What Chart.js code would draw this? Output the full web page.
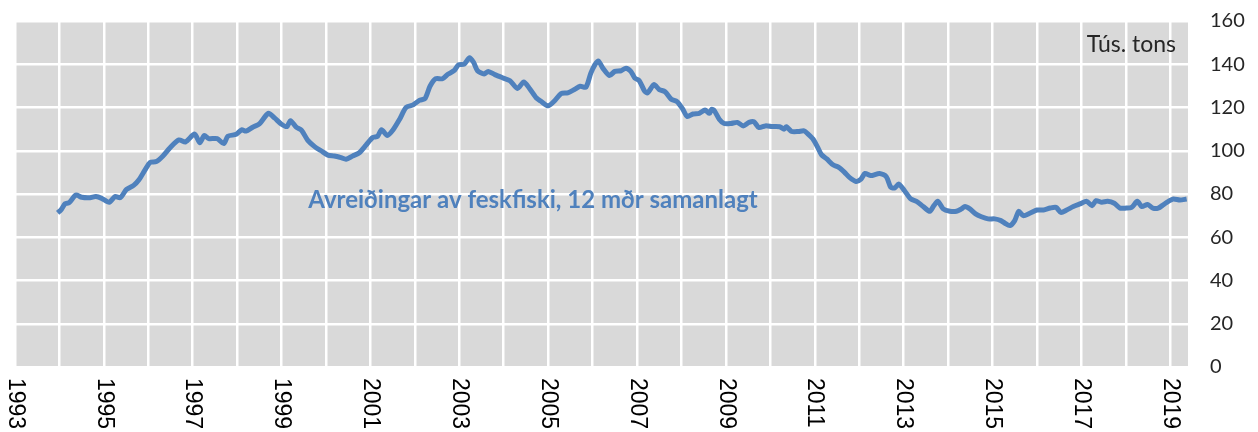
<!DOCTYPE html>
<html>
<head>
<meta charset="utf-8">
<script src="https://cdn.jsdelivr.net/npm/chart.js@4"></script>
<style>
  body { margin: 0; background: #fff; }
  canvas { display: block; }
</style>
</head>
<body>
<canvas id="fishChart" width="1258" height="432"></canvas>
<script>
// ********
// * Data *
// ********
const years = [
  1993.96, 1994.03, 1994.13, 1994.22, 1994.37, 1994.50, 1994.69, 1994.82, 1994.95, 1995.12,
  1995.25, 1995.37, 1995.51, 1995.67, 1995.79, 1995.92, 1996.04, 1996.18, 1996.33, 1996.49,
  1996.69, 1996.84, 1997.04, 1997.16, 1997.26, 1997.36, 1997.55, 1997.70, 1997.79, 1997.98,
  1998.10, 1998.20, 1998.35, 1998.50, 1998.70, 1998.84, 1998.99, 1999.12, 1999.20, 1999.33,
  1999.45, 1999.59, 1999.75, 1999.89, 2000.04, 2000.19, 2000.34, 2000.45, 2000.60, 2000.75,
  2000.90, 2001.05, 2001.16, 2001.25, 2001.38, 2001.51, 2001.66, 2001.80, 2001.96, 2002.10,
  2002.23, 2002.34, 2002.47, 2002.62, 2002.75, 2002.88, 2002.98, 2003.11, 2003.23, 2003.32,
  2003.41, 2003.56, 2003.65, 2003.80, 2003.99, 2004.14, 2004.31, 2004.45, 2004.58, 2004.73,
  2004.83, 2005.00, 2005.14, 2005.29, 2005.44, 2005.59, 2005.72, 2005.85, 2005.96, 2006.05,
  2006.13, 2006.23, 2006.38, 2006.50, 2006.64, 2006.75, 2006.86, 2006.95, 2007.05, 2007.17,
  2007.24, 2007.38, 2007.50, 2007.63, 2007.77, 2007.90, 2008.03, 2008.13, 2008.26, 2008.40,
  2008.53, 2008.63, 2008.68, 2008.74, 2008.85, 2008.96, 2009.11, 2009.26, 2009.39, 2009.52,
  2009.63, 2009.74, 2009.89, 2010.04, 2010.21, 2010.31, 2010.36, 2010.48, 2010.63, 2010.76,
  2010.85, 2010.96, 2011.06, 2011.15, 2011.27, 2011.41, 2011.54, 2011.67, 2011.78, 2011.93,
  2012.04, 2012.13, 2012.26, 2012.46, 2012.61, 2012.71, 2012.80, 2012.89, 2013.02, 2013.16,
  2013.29, 2013.44, 2013.59, 2013.68, 2013.77, 2013.89, 2014.04, 2014.19, 2014.30, 2014.38,
  2014.49, 2014.62, 2014.75, 2014.90, 2015.05, 2015.19, 2015.28, 2015.39, 2015.50, 2015.59,
  2015.69, 2015.84, 2016.00, 2016.15, 2016.30, 2016.43, 2016.54, 2016.67, 2016.82, 2016.97,
  2017.12, 2017.24, 2017.33, 2017.46, 2017.59, 2017.74, 2017.87, 2018.01, 2018.13, 2018.26,
  2018.36, 2018.49, 2018.61, 2018.73, 2018.85, 2018.96, 2019.07, 2019.22, 2019.37
];

const landings = [
  71.3, 72.5, 75.5, 76.0, 79.5, 78.5, 78.3, 78.8, 78.0, 76.2,
  78.8, 78.3, 82.1, 84.0, 86.6, 90.9, 94.6, 95.0, 97.6, 101.4,
  105.0, 104.1, 107.7, 103.7, 107.1, 105.6, 105.6, 103.3, 106.7, 107.6,
  109.7, 109.1, 110.9, 112.4, 117.3, 115.2, 112.4, 111.2, 113.9, 110.9,
  109.4, 104.8, 101.8, 100.0, 98.0, 97.6, 96.8, 96.1, 97.6, 99.1,
  102.6, 106.1, 106.7, 109.7, 107.1, 109.7, 114.7, 120.0, 121.2, 123.3,
  124.2, 129.8, 133.3, 133.3, 135.5, 137.0, 139.7, 140.0, 143.0, 140.9,
  137.0, 135.5, 136.7, 135.2, 133.6, 132.4, 128.8, 131.8, 128.8, 124.5,
  123.0, 120.8, 123.0, 126.4, 126.8, 128.3, 129.8, 129.4, 135.9, 139.7,
  141.5, 138.2, 134.8, 136.7, 137.0, 138.2, 136.7, 133.6, 132.4, 127.6,
  126.8, 130.6, 128.3, 127.3, 123.8, 122.7, 119.2, 115.8, 117.0, 117.3,
  118.8, 117.3, 119.2, 118.5, 114.6, 112.6, 112.6, 113.1, 111.5, 113.1,
  113.4, 110.8, 111.5, 111.2, 111.1, 110.0, 111.1, 108.9, 108.9, 109.2,
  107.7, 105.4, 101.8, 98.2, 96.2, 93.5, 92.3, 90.0, 87.7, 85.8,
  86.9, 89.5, 88.5, 89.5, 88.0, 83.1, 82.8, 84.6, 81.5, 77.7,
  76.6, 74.2, 72.0, 74.6, 76.6, 73.1, 72.0, 72.0, 73.1, 74.2,
  73.1, 70.8, 69.5, 68.5, 68.5, 67.7, 66.5, 65.4, 67.7, 72.0,
  70.0, 71.1, 72.6, 72.6, 73.5, 73.8, 71.5, 72.6, 74.2, 75.4,
  76.6, 74.6, 76.9, 76.2, 76.6, 75.7, 73.5, 73.5, 73.8, 76.6,
  74.2, 75.1, 73.5, 73.5, 75.1, 76.6, 77.7, 77.2, 77.7
];

const yearLabels = [1993, 1995, 1997, 1999, 2001, 2003, 2005, 2007, 2009, 2011, 2013, 2015, 2017, 2019];
const seriesLabel = 'Avreiðingar av feskfiski, 12 mðr samanlagt';
const unitLabel = 'Tús. tons';

// ***********
// * Plugins *
// ***********
const plotBackground = {
  id: 'plotBackground',
  beforeDraw(chart) {
    const { ctx, chartArea } = chart;
    ctx.save();
    ctx.fillStyle = '#d9d9d9';
    ctx.fillRect(chartArea.left, chartArea.top, chartArea.right - chartArea.left, chartArea.bottom - chartArea.top);
    ctx.restore();
  }
};

const chartTexts = {
  id: 'chartTexts',
  afterDraw(chart) {
    const { ctx, chartArea } = chart;
    const xScale = chart.scales.x;
    const yScale = chart.scales.y;

    // year labels, turned clockwise like in the original
    ctx.save();
    ctx.font = '23px "Liberation Sans"';
    ctx.fillStyle = '#000';
    ctx.textAlign = 'left';
    ctx.textBaseline = 'middle';
    yearLabels.forEach(year => {
      ctx.save();
      ctx.translate(xScale.getPixelForValue(year), chartArea.bottom + 11);
      ctx.rotate(Math.PI / 2);
      ctx.fillText(String(year), 0, 0);
      ctx.restore();
    });
    ctx.restore();

    // unit in the top right corner
    ctx.save();
    ctx.font = '23px Lato';
    ctx.fillStyle = '#262626';
    ctx.textAlign = 'right';
    ctx.textBaseline = 'middle';
    ctx.fillText(unitLabel, chartArea.right - 12, yScale.getPixelForValue(149));
    ctx.restore();

    // series name written on the chart
    ctx.save();
    ctx.font = 'bold 24px Lato';
    ctx.fillStyle = '#4f81bd';
    ctx.textAlign = 'left';
    ctx.textBaseline = 'middle';
    ctx.fillText(seriesLabel, xScale.getPixelForValue(1999.6), yScale.getPixelForValue(77.2));
    ctx.restore();
  }
};

// *********
// * Chart *
// *********
const points = years.map((year, i) => ({ x: year, y: landings[i] }));

new Chart(document.getElementById('fishChart').getContext('2d'), {
  type: 'line',
  data: {
    datasets: [{
      label: seriesLabel,
      data: points,
      borderColor: '#4f81bd',
      borderWidth: 5,
      pointRadius: 0,
      tension: 0.25,
      fill: false
    }]
  },
  options: {
    responsive: false,
    animation: false,
    layout: {
      padding: { left: 15, top: 21, bottom: 65, right: 0 }
    },
    plugins: {
      legend: { display: false },
      tooltip: { enabled: false }
    },
    scales: {
      x: {
        type: 'linear',
        min: 1993,
        max: 2019.4,
        border: { display: false },
        grid: { color: '#ffffff', lineWidth: 2.5, drawTicks: false },
        ticks: { display: false, stepSize: 1, includeBounds: false }
      },
      y: {
        position: 'right',
        min: 0,
        max: 160,
        border: { display: false },
        grid: { color: '#ffffff', lineWidth: 2.5, drawTicks: false },
        ticks: {
          stepSize: 20,
          padding: 22,
          color: '#262626',
          font: { family: 'Lato', size: 20 }
        },
        afterFit(scale) {
          scale.width = 70;
          scale.paddingTop = 0;
          scale.paddingBottom = 0;
        }
      }
    }
  },
  plugins: [plotBackground, chartTexts]
});
</script>
</body>
</html>
